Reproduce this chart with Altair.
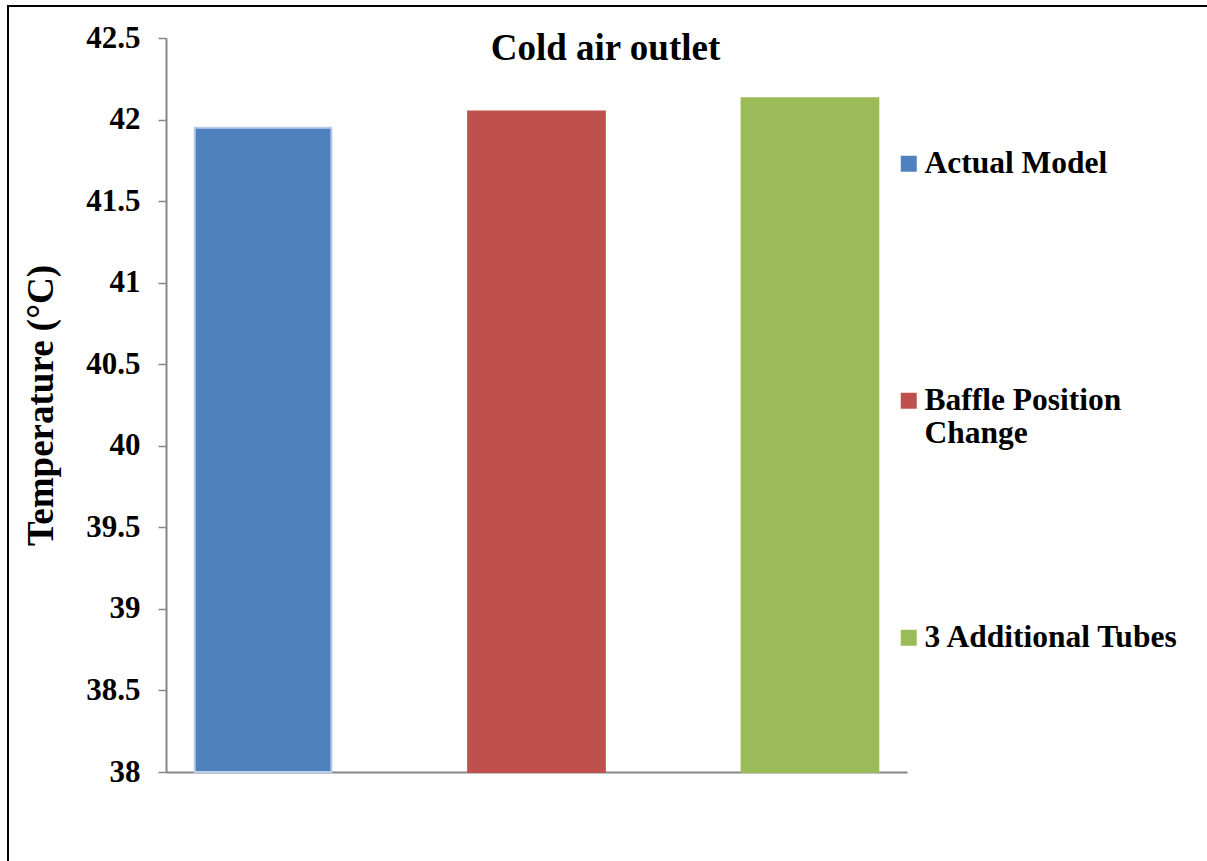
import altair as alt
import pandas as pd

models = ["Actual Model", "Baffle Position Change", "3 Additional Tubes"]
temps = [41.95, 42.05, 42.13]
colors = ["#4f81bd", "#c0504d", "#9bbb59"]
strokes = ["#b8ccef", "#c0504d", "#9bbb59"]
y_ticks = [38, 38.5, 39, 39.5, 40, 40.5, 41, 41.5, 42, 42.5]
y_base = 38

FONT = "Liberation Serif"

df = pd.DataFrame({"model": models, "temp": temps})

bars = alt.Chart(df).mark_bar(strokeWidth=2).encode(
    x=alt.X(
        "model:N",
        sort=models,
        scale=alt.Scale(paddingInner=0.5, paddingOuter=0.105),
        axis=alt.Axis(
            title=None, labels=False, ticks=False,
            domainColor="#868686", domainWidth=2,
        ),
    ),
    y=alt.Y(
        "temp:Q",
        scale=alt.Scale(domain=[38, 42.5], zero=False, nice=False),
        axis=alt.Axis(
            values=y_ticks, format="~g",
            title="Temperature (°C)",
            titleFont=FONT, titleFontSize=37, titleFontWeight="bold", titleColor="black",
            titleAngle=-90, titleX=-106, titleY=367, titleBaseline="bottom", titleAlign="center",
            labelFont=FONT, labelFontSize=31, labelFontWeight="bold", labelColor="black",
            labelPadding=18, tickSize=8, tickColor="#868686", tickWidth=1.5,
            domainColor="#868686", domainWidth=2, grid=False,
        ),
    ),
    y2=alt.datum(y_base),
    color=alt.Color(
        "model:N",
        sort=models,
        scale=alt.Scale(domain=models, range=colors),
        legend=alt.Legend(
            title=None, orient="none", legendX=727, legendY=110,
            symbolType="square", symbolSize=256, symbolStrokeWidth=0,
            labelFont=FONT, labelFontSize=31.5, labelFontWeight="bold", labelColor="black",
            labelOffset=0, rowPadding=171, labelLimit=400,
            labelExpr="datum.label == 'Baffle Position Change' ? ['Baffle Position', 'Change'] : [datum.label, '']",
        ),
    ),
    stroke=alt.Stroke(
        "model:N", sort=models,
        scale=alt.Scale(domain=models, range=strokes), legend=None,
    ),
)

frame = alt.Chart(pd.DataFrame({"a": [0]})).mark_rect(
    filled=False, stroke="black", strokeWidth=2
).encode(
    x=alt.value(-158), y=alt.value(-32), x2=alt.value(1100), y2=alt.value(900)
)

chart = alt.layer(frame, bars).properties(
    width=741,
    height=734,
    padding={"left": 166, "top": 38, "right": 300, "bottom": 89},
    autosize=alt.AutoSizeParams(type="none"),
    background="white",
    title=alt.TitleParams(
        "Cold air outlet", font=FONT, fontSize=37, fontWeight="bold", color="black",
        anchor="middle", frame="group", dx=69, offset=-92, baseline="alphabetic",
    ),
).configure_view(stroke=None)

chart.save("out.html", embed_options={"renderer": "svg", "actions": False})
